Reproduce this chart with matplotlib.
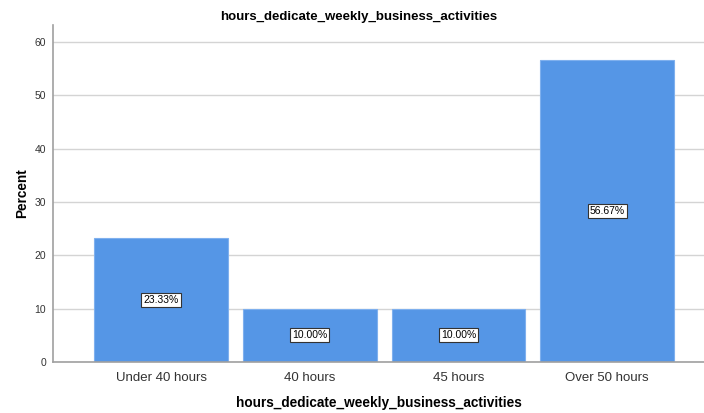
import matplotlib.pyplot as plt
import numpy as np

plt.rcParams['font.family'] = ['Liberation Sans', 'DejaVu Sans']

categories = ['Under 40 hours', '40 hours', '45 hours', 'Over 50 hours']
percent = [23.33, 10.00, 10.00, 56.67]
yticks = [0, 10, 20, 30, 40, 50, 60]

fig = plt.figure(figsize=(7.04, 4.13), dpi=100)
ax = fig.add_axes([53/704, 51/413, 651/704, 337/413])

x = np.arange(len(categories))
ax.bar(x, percent, width=0.9, color='#5596e6', edgecolor='#7fb0ee', linewidth=0.8, zorder=2)

# value labels in white boxes at half bar height
for xi, v in zip(x, percent):
    ax.text(xi, v / 2, '{:.2f}%'.format(v), ha='center', va='center', fontsize=7.5,
            bbox=dict(boxstyle='square,pad=0.2', facecolor='white', edgecolor='#333333', linewidth=0.8),
            zorder=3)

ax.set_xlim(-0.726, 3.65)
ax.set_ylim(0, 63.2)
ax.set_xticks(x)
ax.set_xticklabels(categories, fontsize=9.5, color='#333333')
ax.set_yticks(yticks)
ax.set_yticklabels([str(t) for t in yticks], fontsize=7.5, color='#333333')
ax.tick_params(axis='x', length=0, pad=7)
ax.tick_params(axis='y', length=0, pad=5)
ax.yaxis.grid(True, color='#d4d4d4', linewidth=1, zorder=0)
ax.set_axisbelow(True)

for s in ['top', 'right']:
    ax.spines[s].set_visible(False)
for s in ['left', 'bottom']:
    ax.spines[s].set_color('#a0a0a0')
    ax.spines[s].set_linewidth(1.2)

ax.set_xlabel('hours_dedicate_weekly_business_activities', fontsize=9.8, fontweight='bold', labelpad=9)
ax.set_ylabel('Percent', fontsize=9.8, fontweight='bold', labelpad=4)
fig.text(0.51, 0.958, 'hours_dedicate_weekly_business_activities', ha='center', va='center',
         fontsize=9.5, fontweight='bold')

fig.savefig('out.png', dpi=100)
